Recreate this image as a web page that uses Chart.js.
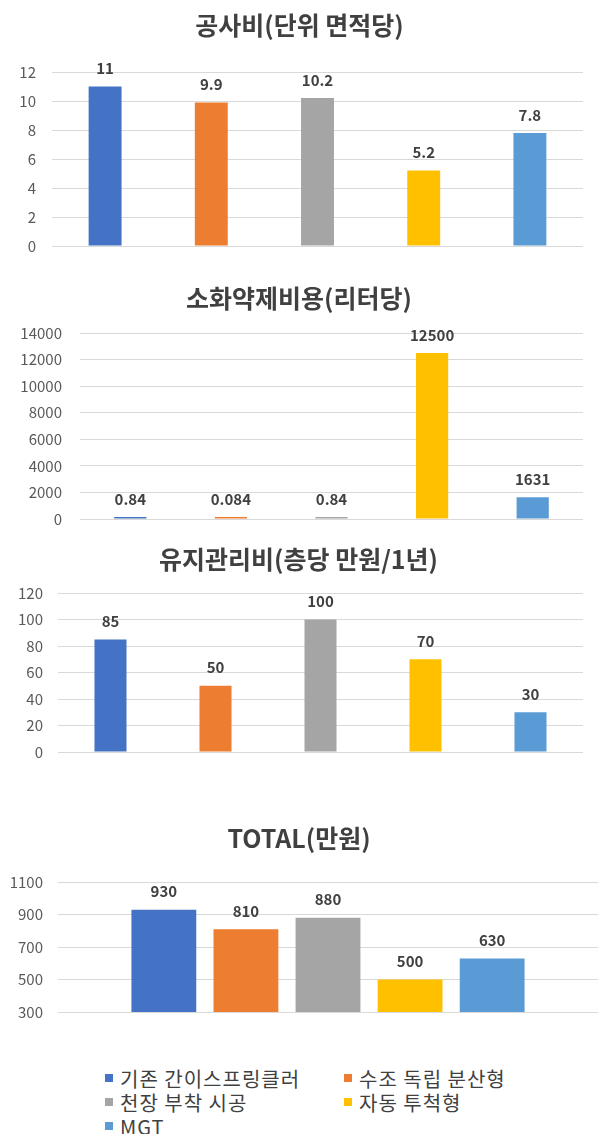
<!DOCTYPE html>
<html>
<head>
<meta charset="utf-8">
<script src="https://cdn.jsdelivr.net/npm/chart.js@4.4.1/dist/chart.umd.min.js"></script>
<style>
  body { margin: 0; background: #fff; }
  #page { position: relative; width: 599px; height: 1134px; overflow: hidden; font-family: "Noto Sans CJK KR", sans-serif; }
  canvas { position: absolute; left: 0; }
  .lg { position: absolute; display: flex; align-items: center; height: 24px; font-size: 20px; letter-spacing: 1px; color: #404040; white-space: nowrap; }
  .lg i { display: inline-block; width: 8px; height: 8px; margin-right: 7px; }
</style>
</head>
<body>
<div id="page">
  <canvas id="c1" width="599" height="285" style="top:0px"></canvas>
  <canvas id="c2" width="599" height="290" style="top:265px"></canvas>
  <canvas id="c3" width="599" height="250" style="top:540px"></canvas>
  <canvas id="c4" width="599" height="250" style="top:790px"></canvas>
</div>
<script>
const seriesNames = ['기존 간이스프링클러', '수조 독립 분산형', '천장 부착 시공', '자동 투척형', 'MGT'];
const seriesColors = ['#4472C4', '#ED7D31', '#A5A5A5', '#FFC000', '#5B9BD5'];

const costTitle = '공사비(단위 면적당)';
const costValues = [11, 9.9, 10.2, 5.2, 7.8];
const costTicks = [0, 2, 4, 6, 8, 10, 12];

const agentTitle = '소화약제비용(리터당)';
const agentValues = [0.84, 0.084, 0.84, 12500, 1631];
const agentTicks = [0, 2000, 4000, 6000, 8000, 10000, 12000, 14000];

const upkeepTitle = '유지관리비(층당 만원/1년)';
const upkeepValues = [85, 50, 100, 70, 30];
const upkeepTicks = [0, 20, 40, 60, 80, 100, 120];

const totalTitle = 'TOTAL(만원)';
const totalValues = [930, 810, 880, 500, 630];
const totalTicks = [300, 500, 700, 900, 1100];

const FONT = '"Noto Sans CJK KR", sans-serif';

// value labels above each bar
const barLabels = {
  id: 'barLabels',
  afterDatasetsDraw(chart) {
    const ctx = chart.ctx;
    ctx.save();
    ctx.font = 'bold 15px ' + FONT;
    ctx.fillStyle = '#404040';
    ctx.textAlign = 'center';
    ctx.textBaseline = 'middle';
    chart.data.datasets.forEach((ds, i) => {
      chart.getDatasetMeta(i).data.forEach((bar, j) => {
        ctx.fillText(String(ds.data[j]), bar.x, bar.y - 18);
      });
    });
    ctx.restore();
  }
};

function yScale(ticks, box) {
  return {
    min: ticks[0],
    max: ticks[ticks.length - 1],
    afterFit(s) { s.width = box.left - box.padLeft; },
    border: { display: false },
    grid: { color: '#D9D9D9', drawTicks: false },
    ticks: {
      stepSize: ticks[1] - ticks[0],
      padding: box.tickPad,
      color: '#595959',
      font: { family: FONT, size: 15 },
      callback: v => String(v)
    }
  };
}

function baseOptions(title, ticks, box) {
  return {
    responsive: false,
    animation: false,
    layout: { padding: { left: box.padLeft, right: 599 - box.right, top: 0, bottom: box.bottom } },
    scales: { x: { display: false }, y: yScale(ticks, box) },
    plugins: {
      legend: { display: false },
      tooltip: { enabled: false },
      title: {
        display: true,
        text: title,
        color: '#404040',
        font: { family: FONT, size: 25, weight: 'bold' },
        padding: { top: box.t1, bottom: box.t2 }
      }
    }
  };
}

function singleChart(id, title, values, ticks, box) {
  return new Chart(document.getElementById(id), {
    type: 'bar',
    data: {
      labels: seriesNames,
      datasets: [{
        data: values,
        backgroundColor: seriesColors,
        barPercentage: box.bar,
        categoryPercentage: 1,
        minBarLength: 2
      }]
    },
    options: baseOptions(title, ticks, box),
    plugins: [barLabels]
  });
}

// title line box = 25 * 1.2 = 30
singleChart('c1', costTitle, costValues, costTicks,
  { padLeft: 16, left: 52, right: 583, bottom: 39, tickPad: 16, t1: 10, t2: 32, bar: 0.31 });
singleChart('c2', agentTitle, agentValues, agentTicks,
  { padLeft: 15, left: 80, right: 583, bottom: 36, tickPad: 18, t1: 18, t2: 20, bar: 0.32 });
singleChart('c3', upkeepTitle, upkeepValues, upkeepTicks,
  { padLeft: 14, left: 58, right: 583, bottom: 38, tickPad: 15, t1: 4, t2: 19, bar: 0.305 });

// total: one category, five series side by side
new Chart(document.getElementById('c4'), {
  type: 'bar',
  data: {
    labels: ['TOTAL'],
    datasets: seriesNames.map((name, i) => ({
      label: name,
      data: [totalValues[i]],
      backgroundColor: seriesColors[i],
      barPercentage: 0.79,
      categoryPercentage: 0.76
    }))
  },
  options: baseOptions(totalTitle, totalTicks,
    { padLeft: 0, left: 58, right: 598, bottom: 28, tickPad: 15, t1: 33, t2: 29 }),
  plugins: [barLabels]
});

// shared legend, two columns
const page = document.getElementById('page');
seriesNames.forEach((name, i) => {
  const d = document.createElement('div');
  d.className = 'lg';
  d.style.left = (105 + (i % 2) * 239) + 'px';
  d.style.top = (1078 + Math.floor(i / 2) * 24 - 12) + 'px';
  d.innerHTML = '<i style="background:' + seriesColors[i] + '"></i>' + name;
  page.appendChild(d);
});
</script>
</body>
</html>
